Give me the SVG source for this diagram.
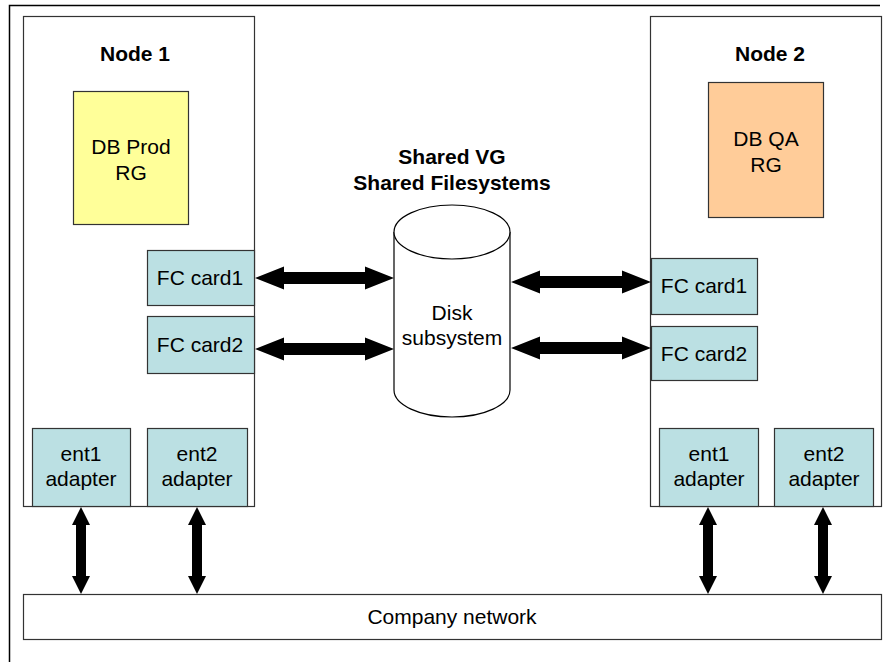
<svg xmlns="http://www.w3.org/2000/svg" width="883" height="662" viewBox="0 0 883 662">
<style>
text{font-family:"Liberation Sans",Arial,sans-serif;font-size:21px;fill:#000;text-anchor:middle}
.b{font-weight:bold}
.box{fill:#fff;stroke:#333;stroke-width:1.2}
.card{fill:#BBE0E3;stroke:#333;stroke-width:1.2}
.arr{fill:#000}
</style>
<rect width="883" height="662" fill="#fff"/>
<g id="frame"><path d="M9.5,662 V5.5 H880" fill="none" stroke="#000" stroke-width="1.5"/></g>
<g id="node1">
<rect class="box" x="23.5" y="16.5" width="231" height="490"/>
<text class="b" x="135" y="61">Node 1</text>
</g>
<g id="dbprod">
<rect x="73.5" y="91.5" width="115" height="133" fill="#FFFF99" stroke="#333" stroke-width="1.2"/>
<text x="131" y="154">DB Prod</text>
<text x="131" y="180">RG</text>
</g>
<g id="node2">
<rect class="box" x="650.5" y="16.5" width="231" height="490"/>
<text class="b" x="770" y="61">Node 2</text>
</g>
<g id="dbqa">
<rect x="708.5" y="82.5" width="115" height="135" fill="#FFCC99" stroke="#333" stroke-width="1.2"/>
<text x="766" y="146">DB QA</text>
<text x="766" y="172">RG</text>
</g>
<g id="fc1-left"><rect class="card" x="147.5" y="250.5" width="107" height="55"/><text x="200" y="285">FC card1</text></g>
<g id="fc2-left"><rect class="card" x="147.5" y="316.5" width="107" height="57"/><text x="200" y="352">FC card2</text></g>
<g id="fc1-right"><rect class="card" x="651.5" y="258.5" width="106" height="56"/><text x="704" y="293">FC card1</text></g>
<g id="fc2-right"><rect class="card" x="651.5" y="326.5" width="106" height="54"/><text x="704" y="361">FC card2</text></g>
<g id="ent1-left"><rect class="card" x="32.5" y="428.5" width="98" height="78"/><text x="81" y="461">ent1</text><text x="81" y="486">adapter</text></g>
<g id="ent2-left"><rect class="card" x="147.5" y="428.5" width="100" height="78"/><text x="197" y="461">ent2</text><text x="197" y="486">adapter</text></g>
<g id="ent1-right"><rect class="card" x="659.5" y="428.5" width="99" height="78"/><text x="709" y="461">ent1</text><text x="709" y="486">adapter</text></g>
<g id="ent2-right"><rect class="card" x="774.5" y="428.5" width="99" height="78"/><text x="824" y="461">ent2</text><text x="824" y="486">adapter</text></g>
<g id="disk">
<path d="M394,232 V390 A58,27 0 0 0 510,390 V232" fill="#fff" stroke="#000" stroke-width="1.2"/>
<ellipse cx="452" cy="232" rx="58" ry="27" fill="#fff" stroke="#000" stroke-width="1.2"/>
<text x="452" y="320">Disk</text>
<text x="452" y="345">subsystem</text>
</g>
<g id="shared-label">
<text class="b" x="452" y="164">Shared VG</text>
<text class="b" x="452" y="190">Shared Filesystems</text>
</g>
<g id="network">
<rect class="box" x="23.5" y="594.5" width="858" height="45"/>
<text x="452" y="624">Company network</text>
</g>
<g id="connectors">
<path class="arr" d="M255,278 L284,266.5 L284,272 L365,272 L365,266.5 L394,278 L365,289.5 L365,284 L284,284 L284,289.5 Z"/>
<path class="arr" d="M255,349 L284,337.5 L284,343 L365,343 L365,337.5 L394,349 L365,360.5 L365,355 L284,355 L284,360.5 Z"/>
<path class="arr" d="M511,282 L540,270.5 L540,276 L622,276 L622,270.5 L651,282 L622,293.5 L622,288 L540,288 L540,293.5 Z"/>
<path class="arr" d="M511,348 L540,336.5 L540,342 L622,342 L622,336.5 L651,348 L622,359.5 L622,354 L540,354 L540,359.5 Z"/>
<path class="arr" d="M81,507 L90,525 L86,525 L86,576 L90,576 L81,594 L72,576 L76,576 L76,525 L72,525 Z"/>
<path class="arr" d="M197,507 L206,525 L202,525 L202,576 L206,576 L197,594 L188,576 L192,576 L192,525 L188,525 Z"/>
<path class="arr" d="M708,507 L717,525 L713,525 L713,576 L717,576 L708,594 L699,576 L703,576 L703,525 L699,525 Z"/>
<path class="arr" d="M823,507 L832,525 L828,525 L828,576 L832,576 L823,594 L814,576 L818,576 L818,525 L814,525 Z"/>
</g>
</svg>
